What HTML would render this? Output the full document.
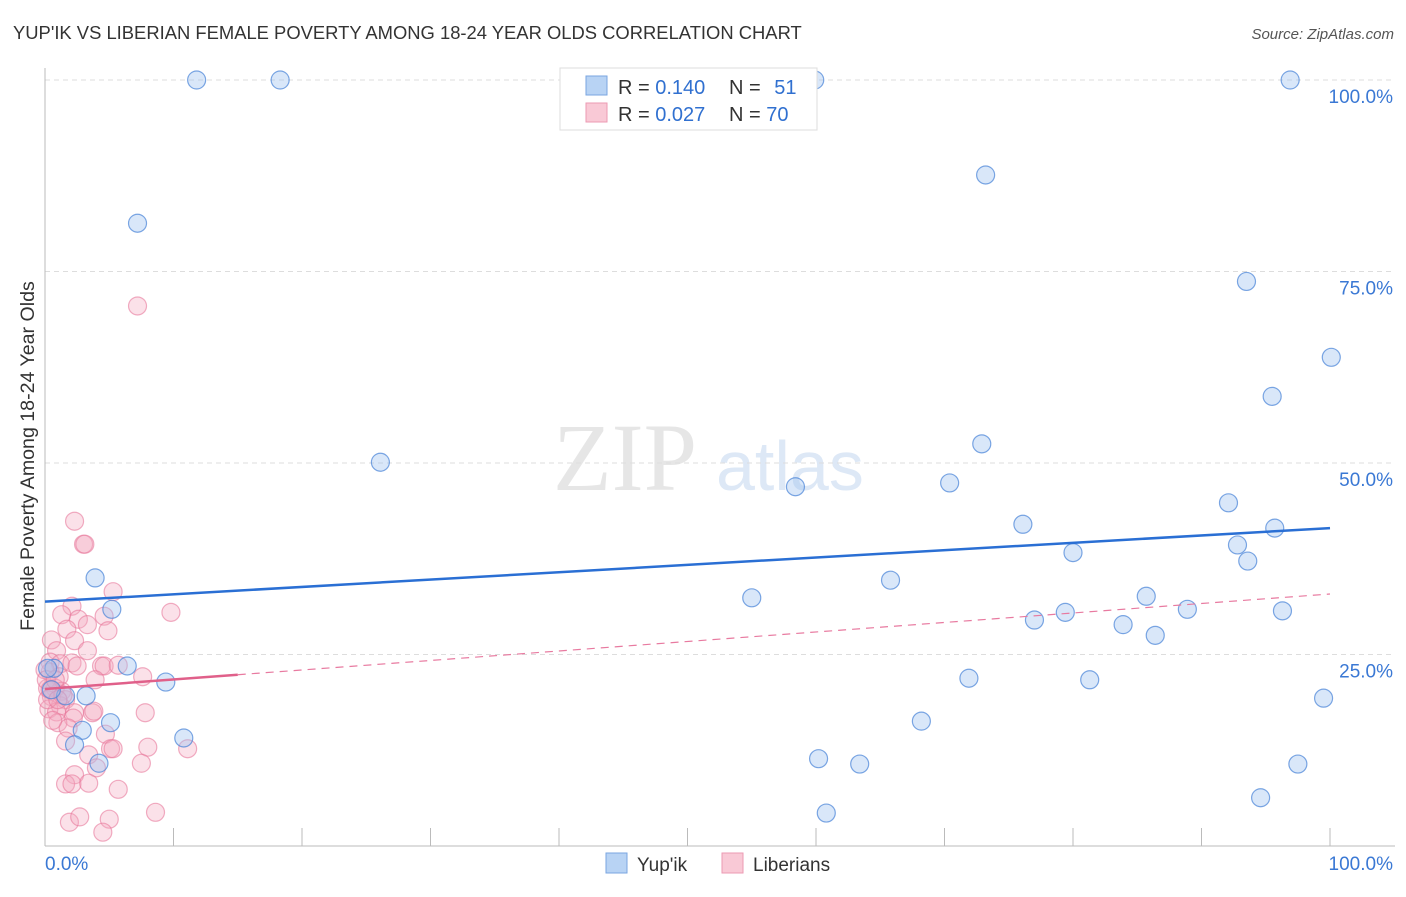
<!DOCTYPE html>
<html><head><meta charset="utf-8"><style>
body{margin:0;background:#fff;font-family:"Liberation Sans",sans-serif;}
</style></head><body>
<svg id="chart" width="1406" height="892" xmlns="http://www.w3.org/2000/svg" font-family="Liberation Sans, sans-serif">
<text x="13" y="39" font-size="18.4" fill="#333">YUP'IK VS LIBERIAN FEMALE POVERTY AMONG 18-24 YEAR OLDS CORRELATION CHART</text>
<text x="1394" y="39" font-size="15" fill="#555" text-anchor="end" font-style="italic">Source: ZipAtlas.com</text>
<text x="553" y="490" font-size="96" fill="#e6e6e6" font-family="Liberation Serif, serif">ZIP</text>
<text x="716" y="490" font-size="70" fill="#dde8f6">atlas</text>
<g id="grid"></g><g id="axes"></g><g id="marks"></g>
<text transform="translate(34,456) rotate(-90)" font-size="19.6" fill="#333" text-anchor="middle">Female Poverty Among 18-24 Year Olds</text>
<g>
<rect x="560" y="68" width="257" height="62" fill="#fff" stroke="#ddd"/>
<rect x="586" y="76" width="21" height="19" fill="#b8d3f4" stroke="#7aa6e0"/>
<rect x="586" y="103" width="21" height="19" fill="#f9c9d6" stroke="#ec9ab3"/>
<text x="618" y="94" font-size="20" fill="#333">R = <tspan fill="#3070d0">0.140</tspan></text>
<text x="729" y="94" font-size="20" fill="#333">N = <tspan fill="#3070d0" dx="8">51</tspan></text>
<text x="618" y="121" font-size="20" fill="#333">R = <tspan fill="#3070d0">0.027</tspan></text>
<text x="729" y="121" font-size="20" fill="#333">N = <tspan fill="#3070d0">70</tspan></text>
</g>
<g>
<rect x="606" y="853" width="21" height="20" fill="#b8d3f4" stroke="#7aa6e0"/>
<text x="637" y="871" font-size="19" fill="#333">Yup'ik</text>
<rect x="722" y="853" width="21" height="20" fill="#f9c9d6" stroke="#ec9ab3"/>
<text x="753" y="871" font-size="19" fill="#333">Liberians</text>
</g>
</svg>
<script>
const yupikX=[11.8,18.3,59.9,96.9,7.2,73.2,93.5,100.1,95.5,26.1,72.9,58.4,70.4,76.1,92.1,95.7,92.8,80.0,93.6,3.9,65.8,55.0,85.7,5.2,77.0,79.4,88.9,96.3,83.9,86.4,6.4,0.7,0.2,9.4,71.9,81.3,1.6,3.2,99.5,5.1,2.9,68.2,10.8,2.3,60.2,63.4,4.2,97.5,60.8,94.6,0.5];
const yupikY=[100,100,100,100,81.3,87.6,73.7,63.8,58.7,50.1,52.5,46.9,47.4,42.0,44.8,41.5,39.3,38.3,37.2,35.0,34.7,32.4,32.6,30.9,29.5,30.5,30.9,30.7,28.9,27.5,23.5,23.2,23.2,21.4,21.9,21.7,19.6,19.6,19.3,16.1,15.1,16.3,14.1,13.2,11.4,10.7,10.8,10.7,4.3,6.3,20.4];
const libX=[2.3,3.0,3.1,7.2,5.3,2.1,1.3,2.6,4.6,9.8,1.7,3.3,4.9,0.5,2.3,3.3,0.9,0.4,1.2,2.1,2.5,4.4,4.6,5.7,0.4,1.1,3.9,7.6,0.8,1.3,0.2,0.5,1.6,1.2,0.3,0.9,2.3,3.7,7.8,2.2,3.8,1.0,1.8,4.7,1.6,5.1,5.3,8.0,3.4,11.1,4.0,7.5,2.3,1.6,2.1,3.4,5.7,5.0,1.9,2.7,4.5,8.6,0.2,0.6,0.0,0.1,0.4,0.8,1.4,1.0];
const libY=[42.4,39.4,39.4,70.5,33.2,31.3,30.2,29.6,30.0,30.5,28.3,28.9,28.1,26.9,26.8,25.5,25.5,24.0,23.8,23.9,23.5,23.5,23.5,23.6,22.7,22.1,21.7,22.1,20.6,20.2,20.6,19.5,19.1,18.3,17.9,17.5,17.4,17.4,17.4,16.7,17.6,16.1,15.4,14.6,13.7,12.7,12.7,12.9,11.9,12.7,10.2,10.8,9.3,8.1,8.1,8.2,7.4,3.5,3.1,3.8,1.8,4.4,19.1,16.4,23.0,21.7,20.4,21.7,19.7,19.1];
const yTicks=[25,50,75,100];
const yTickLabels=["25.0%","50.0%","75.0%","100.0%"];
const xTicks=[0,10,20,30,40,50,60,70,80,90,100];
const blueTrend=[31.9,41.5];
const pinkTrend=[20.5,32.9];
const pinkSolidEnd=15;

const NS="http://www.w3.org/2000/svg";
const sx=v=>45+v*12.85, sy=v=>846-v*7.66;
function mk(tag,attrs,parent){const e=document.createElementNS(NS,tag);for(const k in attrs)e.setAttribute(k,attrs[k]);document.getElementById(parent).appendChild(e);return e;}
yTicks.forEach((t,i)=>{
  const g=mk('line',{x1:45,x2:1395,y1:sy(t),y2:sy(t),stroke:'#ddd','stroke-dasharray':'5,4'},'grid');
  
  
  const l=mk('text',{x:1393,y:sy(t)+23,'font-size':19,fill:'#3a78d4','text-anchor':'end'},'grid');
  l.textContent=yTickLabels[i];
  
  
});
const ax=mk('line',{x1:45,x2:45,y1:68,y2:846,stroke:'#bbb'},'axes');


const bx=mk('line',{x1:45,x2:1395,y1:846,y2:846,stroke:'#bbb'},'axes');


xTicks.forEach(t=>{
  const k=mk('line',{x1:sx(t),x2:sx(t),y1:828,y2:846,stroke:'#bbb'},'axes');
  
  
});
const xl0=mk('text',{x:45,y:870,'font-size':19,fill:'#3a78d4'},'axes');xl0.textContent='0.0%';


const xl1=mk('text',{x:1393,y:870,'font-size':19,fill:'#3a78d4','text-anchor':'end'},'axes');xl1.textContent='100.0%';


libX.forEach((x,i)=>{
  const c=mk('circle',{cx:sx(x),cy:sy(libY[i]),r:9,fill:'rgba(244,170,192,0.35)',stroke:'rgba(232,120,155,0.6)','stroke-width':1.2},'marks');
  
  
});
yupikX.forEach((x,i)=>{
  const c=mk('circle',{cx:sx(x),cy:sy(yupikY[i]),r:9,fill:'rgba(160,195,240,0.4)',stroke:'rgba(70,130,215,0.7)','stroke-width':1.2},'marks');
  
  
});
const pt=v=>pinkTrend[0]+(pinkTrend[1]-pinkTrend[0])*v/100;
const pd=mk('line',{x1:sx(pinkSolidEnd),y1:sy(pt(pinkSolidEnd)),x2:sx(100),y2:sy(pinkTrend[1]),stroke:'#e87aa0','stroke-width':1.2,'stroke-dasharray':'8,6'},'marks');


const ps=mk('line',{x1:sx(0),y1:sy(pinkTrend[0]),x2:sx(pinkSolidEnd),y2:sy(pt(pinkSolidEnd)),stroke:'#e0608a','stroke-width':2.5},'marks');


const bt=mk('line',{x1:sx(0),y1:sy(blueTrend[0]),x2:sx(100),y2:sy(blueTrend[1]),stroke:'#2a6fd4','stroke-width':2.5},'marks');


</script>
</body></html>
